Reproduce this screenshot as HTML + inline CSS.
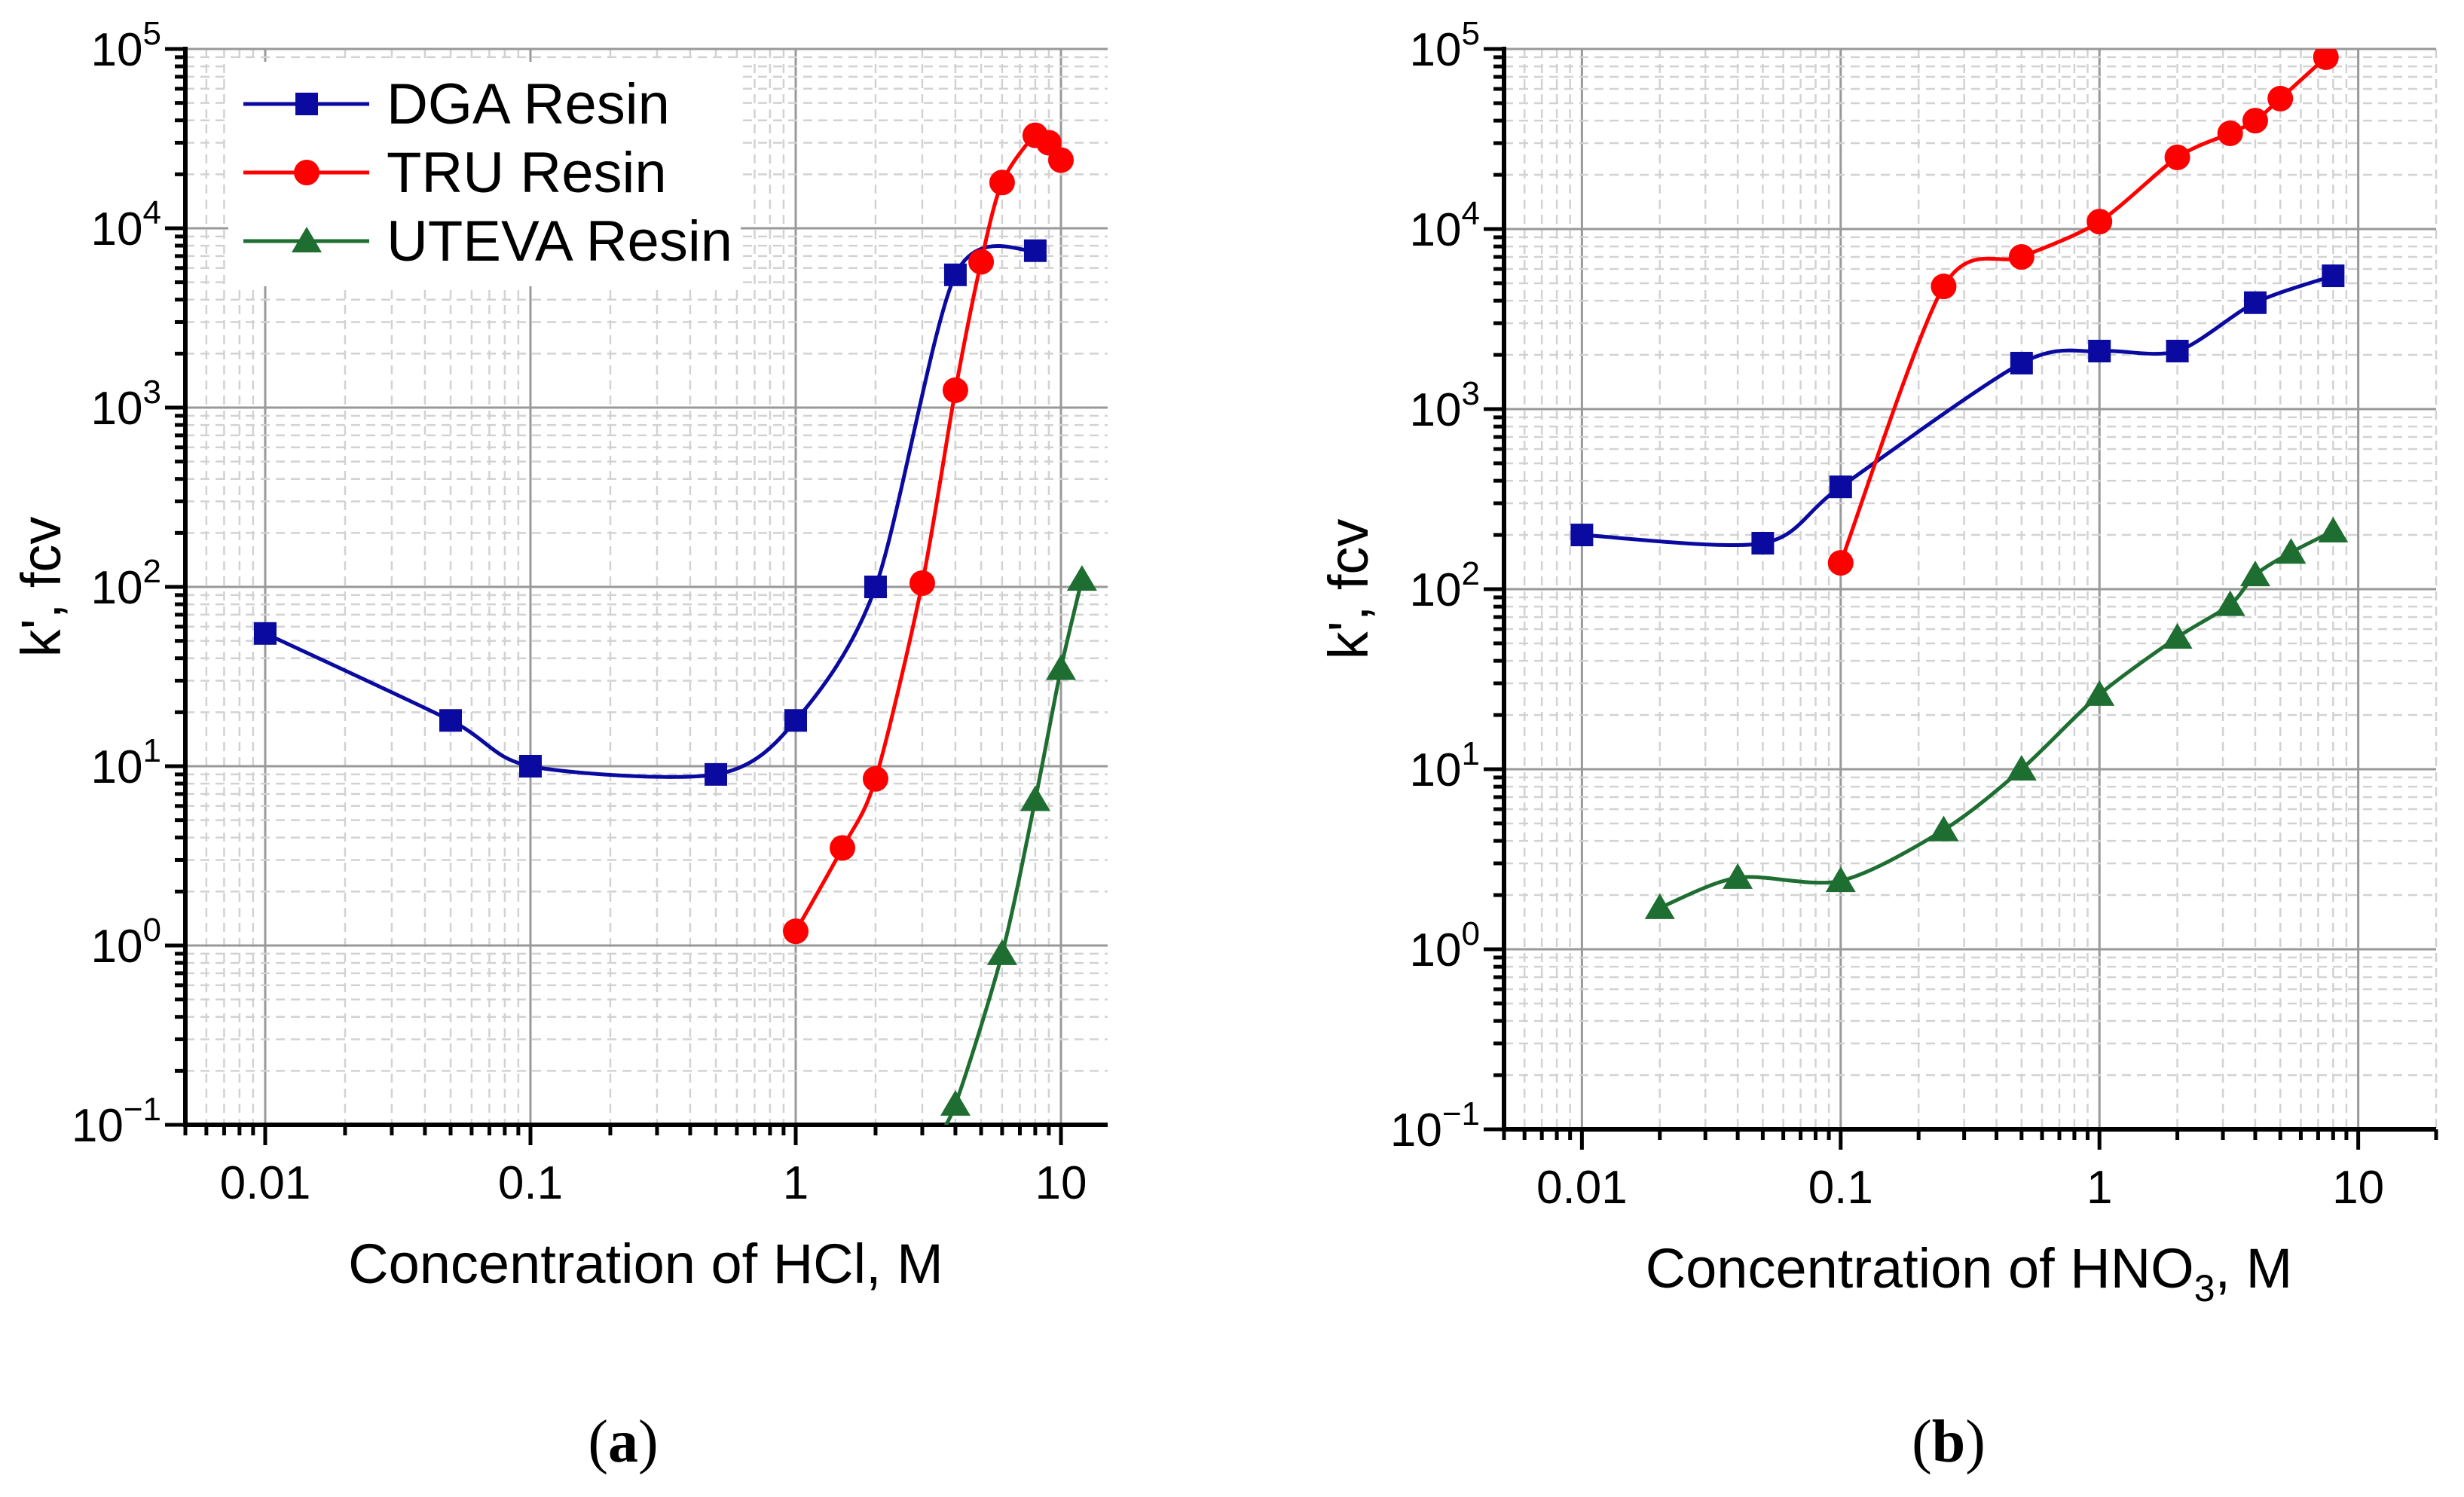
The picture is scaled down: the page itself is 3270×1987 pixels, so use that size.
<!DOCTYPE html>
<html><head><meta charset="utf-8">
<style>
html,body{margin:0;padding:0;background:#fff;}
svg{display:block;font-family:"Liberation Sans",sans-serif;}
</style></head>
<body>
<svg id="chart" width="3270" height="1987" viewBox="0 0 3270 1987" xmlns="http://www.w3.org/2000/svg">
<rect width="3270" height="1987" fill="#fff"/>
</svg>
<script>
// Panel (a) HCl data
const aDgaX=[0.01,0.05,0.1,0.5,1,2,4,8];
const aDgaY=[55,18,10,9,18,100,5500,7500];
const aTruX=[1,1.5,2,3,4,5,6,8,9,10];
const aTruY=[1.2,3.5,8.5,105,1250,6500,18000,33000,30000,24000];
const aUteX=[3.3,4,6,8,10,12];
const aUteY=[0.08,0.13,0.9,6.5,35,110];
const aUteMarkStart=1;
// Panel (b) HNO3 data
const bDgaX=[0.01,0.05,0.1,0.5,1,2,4,8];
const bDgaY=[200,180,370,1800,2100,2100,3900,5500];
const bTruX=[0.1,0.25,0.5,1,2,3.2,4,5,7.5];
const bTruY=[140,4800,7000,11000,25000,34000,40000,53000,90000];
const bUteX=[0.02,0.04,0.1,0.25,0.5,1,2,3.2,4,5.5,8];
const bUteY=[1.7,2.5,2.4,4.6,10,26,54,82,120,160,210];
const xTickVals=[0.01,0.1,1,10];
const xTickLabels=["0.01","0.1","1","10"];
const yTickExps=[-1,0,1,2,3,4,5];

const NS="http://www.w3.org/2000/svg";
const svg=document.getElementById('chart');
function mk(tag,attrs,parent){const e=document.createElementNS(NS,tag);for(const k in attrs)e.setAttribute(k,attrs[k]);(parent||svg).appendChild(e);return e;}

function panel(P){
  const g=mk('g',{});
  
  
  const lx0=Math.log10(P.xmin),lx1=Math.log10(P.xmax);
  const X=v=>P.L+(Math.log10(v)-lx0)/(lx1-lx0)*(P.R-P.L);
  const Y=v=>P.B-(Math.log10(v)+1)/6*(P.B-P.T);
  const clipId='clip-'+P.id;
  const defs=mk('defs',{},g);
  const cp=mk('clipPath',{id:clipId},defs);
  mk('rect',{x:P.L,y:P.T,width:P.R-P.L,height:P.B-P.T},cp);
  const grid=mk('g',{},g);
  
  
  for(let e=-3;e<=1;e++)for(let m=1;m<10;m++){const v=m*Math.pow(10,e);if(v<P.xmin||v>P.xmax)continue;const x=X(v);
    if(m===1)mk('line',{x1:x,y1:P.T,x2:x,y2:P.B,stroke:'#999','stroke-width':3},grid);
    else mk('line',{x1:x,y1:P.T,x2:x,y2:P.B,stroke:'#d2d2d2','stroke-width':2.5,'stroke-dasharray':'12 8'},grid);}
  for(let e=-1;e<=4;e++)for(let m=1;m<10;m++){const v=m*Math.pow(10,e);const y=Y(v);
    if(m===1)continue;mk('line',{x1:P.L,y1:y,x2:P.R,y2:y,stroke:'#d2d2d2','stroke-width':2.5,'stroke-dasharray':'12 8'},grid);}
  for(let e=0;e<=5;e++){const y=Y(Math.pow(10,e));mk('line',{x1:P.L,y1:y,x2:P.R,y2:y,stroke:'#999','stroke-width':3},grid);}
  const ax=mk('g',{},g);
  
  
  mk('line',{x1:P.L,y1:P.T-3,x2:P.L,y2:P.B+3,stroke:'#000','stroke-width':6},ax);
  mk('line',{x1:P.L-3,y1:P.B,x2:P.R,y2:P.B,stroke:'#000','stroke-width':6},ax);
  for(let e=-3;e<=1;e++)for(let m=1;m<10;m++){const v=m*Math.pow(10,e);if(v<P.xmin||v>P.xmax)continue;const x=X(v);
    mk('line',{x1:x,y1:P.B,x2:x,y2:P.B+(m===1?27:14),stroke:'#000','stroke-width':5},ax);}
  for(let e=-1;e<=4;e++)for(let m=1;m<10;m++){const y=Y(m*Math.pow(10,e));
    mk('line',{x1:P.L,y1:y,x2:P.L-(m===1?27:14),y2:y,stroke:'#000','stroke-width':5},ax);}
  mk('line',{x1:P.L,y1:Y(1e5),x2:P.L-27,y2:Y(1e5),stroke:'#000','stroke-width':5},ax);
  xTickVals.forEach((v,i)=>{const t=mk('text',{x:X(v),y:P.B+98,'font-size':62,'text-anchor':'middle',fill:'#000'},ax);t.textContent=xTickLabels[i];
    
    });
  yTickExps.forEach(e=>{const t=mk('text',{x:P.L-32,y:Y(Math.pow(10,e))+22,'font-size':62,'text-anchor':'end',fill:'#000'},ax);
    const a=mk('tspan',{},t);a.textContent='10';const s=mk('tspan',{dy:-28,'font-size':44},t);s.textContent=String(e).replace('-','\u2212');
    
    });
  const yt=mk('text',{x:0,y:0,'font-size':74,'text-anchor':'middle',transform:`translate(${P.ylabX},${(P.T+P.B)/2}) rotate(-90)`},g);
  yt.textContent="k', fcv";
  
  
  const xt=mk('text',{x:P.xtX,y:P.B+210,'font-size':74,'text-anchor':'middle'},g);
  if(P.id==='a'){xt.textContent='Concentration of HCl, M';}
  else{const a=mk('tspan',{},xt);a.textContent='Concentration of HNO';const s=mk('tspan',{dy:18,'font-size':50},xt);s.textContent='3';const c=mk('tspan',{dy:-18},xt);c.textContent=', M';}
  
  
  const pl=mk('text',{x:P.xtX-(P.id==='a'?30:27),y:1940,'font-size':80,'text-anchor':'middle','font-family':'Liberation Serif, serif'},g);
  const p1=mk('tspan',{},pl);p1.textContent='(';const p2=mk('tspan',{'font-weight':'bold'},pl);p2.textContent=P.id;const p3=mk('tspan',{},pl);p3.textContent=')';
  
  
  P.series.forEach(s=>{
    const sg=mk('g',{'clip-path':`url(#${clipId})`},g);
    
    
    const pts=s.x.map((v,i)=>[X(v),Y(s.y[i])]);
    let d=`M${pts[0][0]},${pts[0][1]}`;
    for(let i=0;i<pts.length-1;i++){
      const p0=pts[Math.max(0,i-1)],p1=pts[i],p2=pts[i+1],p3=pts[Math.min(pts.length-1,i+2)];
      const k=7;
      const c1=[p1[0]+(p2[0]-p0[0])/k,p1[1]+(p2[1]-p0[1])/k];
      const c2=[p2[0]-(p3[0]-p1[0])/k,p2[1]-(p3[1]-p1[1])/k];
      d+=` C${c1[0]},${c1[1]} ${c2[0]},${c2[1]} ${p2[0]},${p2[1]}`;}
    mk('path',{d,fill:'none',stroke:s.color,'stroke-width':5},sg);
    pts.forEach((p,i)=>{if(i<(s.markStart||0))return;let m;
      if(s.shape==='sq')m=mk('rect',{x:p[0]-15,y:p[1]-15,width:30,height:30,fill:s.color},sg);
      else if(s.shape==='ci')m=mk('circle',{cx:p[0],cy:p[1],r:17,fill:s.color},sg);
      else m=mk('polygon',{points:`${p[0]},${p[1]-19} ${p[0]-20},${p[1]+15} ${p[0]+20},${p[1]+15}`,fill:s.color},sg);
      
      });
  });
  return g;
}
const BLUE='#0a0aa0',RED='#ff0000',GREEN='#1e6e32';
panel({id:'a',L:246,R:1470,T:65,B:1493,xmin:0.005,xmax:15,ylabX:80,xtX:857,series:[
  {name:'dga-series',x:aDgaX,y:aDgaY,color:BLUE,shape:'sq'},
  {name:'tru-series',x:aTruX,y:aTruY,color:RED,shape:'ci'},
  {name:'uteva-series',x:aUteX,y:aUteY,color:GREEN,shape:'tr',markStart:aUteMarkStart}]});
panel({id:'b',L:1996,R:3233,T:65,B:1499,xmin:0.005,xmax:20,ylabX:1815,xtX:2613,series:[
  {name:'dga-series',x:bDgaX,y:bDgaY,color:BLUE,shape:'sq'},
  {name:'tru-series',x:bTruX,y:bTruY,color:RED,shape:'ci'},
  {name:'uteva-series',x:bUteX,y:bUteY,color:GREEN,shape:'tr'}]});
const lg=mk('g',{});


mk('rect',{x:303,y:82,width:680,height:298,fill:'#fff'},lg);
const legItems=[['DGA Resin',BLUE,'sq'],['TRU Resin',RED,'ci'],['UTEVA Resin',GREEN,'tr']];
legItems.forEach((it,i)=>{const y=138+i*91;const e=mk('g',{},lg);
  
  
  mk('line',{x1:323,y1:y,x2:490,y2:y,stroke:it[1],'stroke-width':5},e);
  if(it[2]==='sq')mk('rect',{x:392,y:y-15,width:30,height:30,fill:it[1]},e);
  else if(it[2]==='ci')mk('circle',{cx:407,cy:y,r:17,fill:it[1]},e);
  else mk('polygon',{points:`407,${y-19} 387,${y+15} 427,${y+15}`,fill:it[1]},e);
  const t=mk('text',{x:513,y:y+26,'font-size':76},e);t.textContent=it[0];});
</script>
</body></html>
